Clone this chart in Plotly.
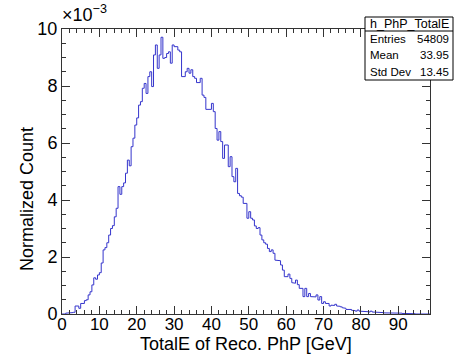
import plotly.graph_objects as go

# ---- data (values in units of 1e-3) ----
x_min = 0.0
bin_width = 0.5
counts = [
    0.0, 0.0, 0.03, 0.05, 0.05, 0.05, 0.06, 0.28, 0.28, 0.2,
    0.37, 0.37, 0.47, 0.5, 0.67, 0.78, 1.02, 1.27, 1.22, 1.37,
    1.45, 1.79, 2.25, 2.33, 2.5, 2.77, 3.0, 3.1, 3.41, 3.71,
    4.47, 4.2, 4.47, 4.6, 4.94, 5.4, 5.2, 5.87, 6.17, 6.63,
    6.88, 7.33, 7.45, 7.92, 8.09, 7.74, 8.33, 8.5, 7.98, 9.09,
    9.44, 8.62, 9.09, 9.71, 8.97, 9.0, 9.14, 9.2, 8.8, 9.44,
    9.38, 9.38, 9.26, 9.2, 8.33, 8.33, 8.5, 8.62, 8.45, 8.57,
    8.33, 8.27, 8.12, 8.12, 8.27, 7.68, 7.6, 7.18, 7.2, 7.18,
    7.39, 7.1, 6.51, 6.1, 6.4, 6.05, 5.46, 5.93, 5.93, 5.17,
    5.52, 4.82, 4.64, 5.11, 4.23, 4.15, 4.1, 3.88, 3.88, 3.36,
    3.59, 3.36, 3.3, 3.09, 3.0, 3.03, 2.77, 2.6, 2.5, 2.45,
    2.3, 2.19, 2.25, 2.13, 1.89, 1.89, 1.87, 1.72, 1.54, 1.31,
    1.31, 1.4, 1.25, 1.1, 1.08, 1.19, 1.03, 0.9, 0.9, 0.61,
    0.9, 0.61, 0.72, 0.61, 0.61, 0.6, 0.67, 0.49, 0.61, 0.37,
    0.43, 0.37, 0.37, 0.28, 0.31, 0.3, 0.34, 0.28, 0.27, 0.25,
    0.22, 0.2, 0.16, 0.14, 0.16, 0.13, 0.12, 0.1, 0.14, 0.1,
    0.08, 0.09, 0.08, 0.08, 0.07, 0.1, 0.07, 0.06, 0.05, 0.06,
    0.05, 0.05, 0.04, 0.05, 0.04, 0.04, 0.03, 0.04, 0.03, 0.04,
    0.03, 0.03, 0.02, 0.03, 0.03, 0.02, 0.02, 0.03, 0.01, 0.0,
    0.0, 0.0, 0.0, 0.0, 0.0, 0.0, 0.0,
]
x_ticks = [0, 10, 20, 30, 40, 50, 60, 70, 80, 90]
y_ticks = [0, 2, 4, 6, 8, 10]
hist_name = "h_PhP_TotalE"
stat_labels = ["Entries", "Mean", "Std Dev"]
stat_values = ["54809", "33.95", "13.45"]

x_max = x_min + bin_width * len(counts)

xs, ys = [x_min], [0.0]
for i, v in enumerate(counts):
    lo = x_min + i * bin_width
    hi = lo + bin_width
    xs += [lo, hi]
    ys += [v, v]
xs.append(x_max)
ys.append(0.0)

FONT = "Liberation Sans, Arial, Helvetica, sans-serif"
AX = "#333333"

# plot-area geometry (pixels)
L, R, T, B = 62, 430, 29, 314
W, H = 455, 360

fig = go.Figure()
fig.add_trace(go.Scatter(x=xs, y=ys, mode="lines",
                         line=dict(color="#3535cc", width=1),
                         hoverinfo="skip", showlegend=False))

fig.update_layout(
    width=W, height=H,
    margin=dict(l=L, r=W - R, t=T, b=H - B),
    paper_bgcolor="white", plot_bgcolor="white",
    font=dict(family=FONT, size=17, color="black"),
    xaxis=dict(range=[x_min, x_max], tickvals=x_ticks,
               ticks="inside", ticklen=8, tickcolor=AX, tickwidth=1,
               minor=dict(dtick=2, ticks="inside", ticklen=4, tickcolor=AX),
               showline=True, linecolor=AX, linewidth=1, mirror="ticks",
               showgrid=False, zeroline=False, ticklabelstandoff=-5,
               tickfont=dict(size=17, family=FONT)),
    yaxis=dict(range=[0, 10], tickvals=y_ticks,
               ticks="inside", ticklen=8, tickcolor=AX, tickwidth=1,
               minor=dict(dtick=0.5, ticks="inside", ticklen=4, tickcolor=AX),
               showline=True, linecolor=AX, linewidth=1, mirror="ticks",
               showgrid=False, zeroline=False,
               tickfont=dict(size=18, family=FONT)),
)

def px(x):
    return (x - L) / (R - L)
def py(y):
    return (B - y) / (B - T)

# axis titles
fig.add_annotation(text="TotalE of Reco. PhP [GeV]", xref="paper", yref="paper",
                   x=px(246), y=py(344), xanchor="center", yanchor="middle",
                   showarrow=False, font=dict(size=18, family=FONT))
fig.add_annotation(text="Normalized Count", xref="paper", yref="paper",
                   x=px(27), y=py(199), textangle=-90,
                   xanchor="center", yanchor="middle",
                   showarrow=False, font=dict(size=18, family=FONT))
fig.add_annotation(text="×10<sup>−3</sup>", xref="paper", yref="paper",
                   x=px(60), y=py(13), xanchor="left", yanchor="middle",
                   showarrow=False, font=dict(size=18, family=FONT))

# stats box
bx0, bx1 = 365, 453
by_top, by_sep, by_bot = 17, 31, 80
fig.add_shape(type="rect", xref="paper", yref="paper",
              x0=px(bx0), x1=px(bx1), y0=py(by_bot), y1=py(by_top),
              line=dict(color="black", width=1), fillcolor="white", layer="above")
fig.add_shape(type="line", xref="paper", yref="paper",
              x0=px(bx0), x1=px(bx1), y0=py(by_sep), y1=py(by_sep),
              line=dict(color="black", width=1), layer="above")
fig.add_annotation(text=hist_name, xref="paper", yref="paper",
                   x=px((bx0 + bx1) / 2), y=py((by_top + by_sep) / 2),
                   xanchor="center", yanchor="middle", showarrow=False,
                   font=dict(size=12.5, family=FONT))
row_h = (by_bot - by_sep) / len(stat_labels)
for k, (lab, val) in enumerate(zip(stat_labels, stat_values)):
    yc = by_sep + row_h * (k + 0.5)
    fig.add_annotation(text=lab, xref="paper", yref="paper",
                       x=px(bx0 + 3), y=py(yc), xanchor="left", yanchor="middle",
                       showarrow=False, font=dict(size=11.5, family=FONT))
    fig.add_annotation(text=val, xref="paper", yref="paper",
                       x=px(bx1 - 2), y=py(yc), xanchor="right", yanchor="middle",
                       showarrow=False, font=dict(size=11.5, family=FONT))

fig.write_html("out.html")
